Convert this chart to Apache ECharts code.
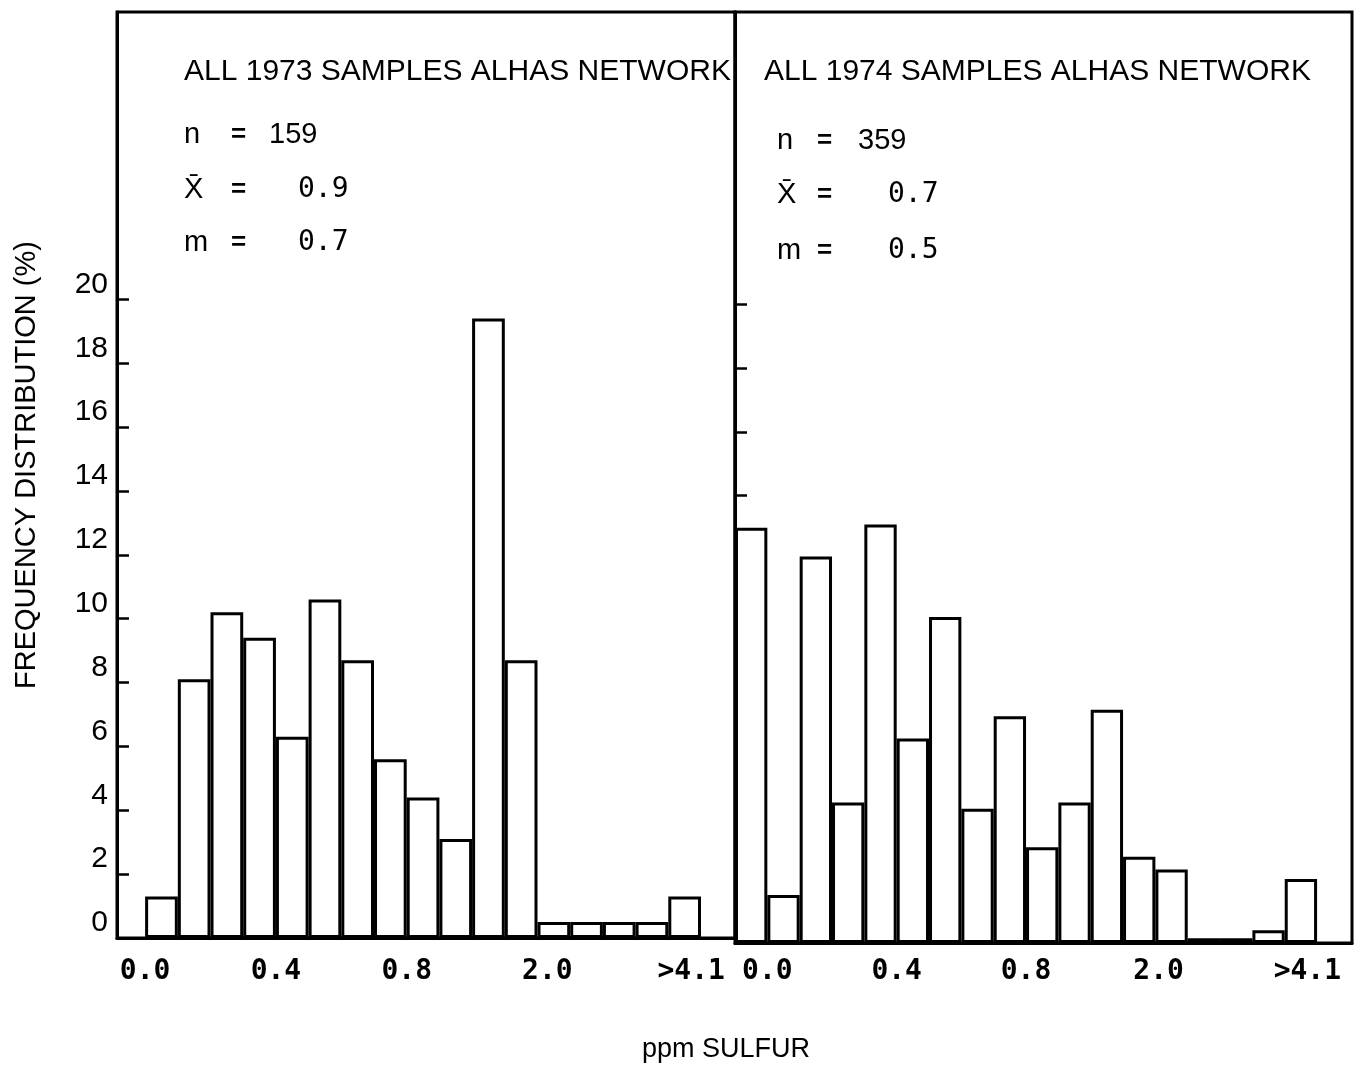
<!DOCTYPE html>
<html>
<head>
<meta charset="utf-8">
<script src="https://cdn.jsdelivr.net/npm/echarts@6/dist/echarts.min.js"></script>
<style>
  html, body { margin: 0; padding: 0; background: #fff; }
  #chart { width: 1355px; height: 1071px; }
</style>
</head>
<body>
<div id="chart"></div>
<script>
// Frequency distribution (%) of sulfur concentrations, one bar per bin
const freq1973 = [1.3, 8.1, 10.2, 9.4, 6.3, 10.6, 8.7, 5.6, 4.4, 3.1, 19.4, 8.7, 0.5, 0.5, 0.5, 0.5, 1.3];
const freq1974 = [13.0, 1.5, 12.1, 4.4, 13.1, 6.4, 10.2, 4.2, 7.1, 3.0, 4.4, 7.3, 2.7, 2.3, 0.15, 0.15, 0.4, 2.0];

// x tick labels (ppm) and the bin boundary each one sits on
const xTickText = ['0.0', '0.4', '0.8', '2.0', '>4.1'];
const xTickAt1973 = [0, 4, 8, 12.3, 16.7];
const xTickAt1974 = [1, 5, 9, 13.1, 17.7];

// y ticks (%)
const yTicks = [0, 2, 4, 6, 8, 10, 12, 14, 16, 18, 20];

const titles = ['ALL 1973 SAMPLES ALHAS NETWORK', 'ALL 1974 SAMPLES ALHAS NETWORK'];
const statNames = ['n', 'X\u0304', 'm'];
const stats1973 = ['159', '0.9', '0.7'];
const stats1974 = ['359', '0.7', '0.5'];

const SANS = '"Liberation Sans", Arial, sans-serif';
const MONO = '"DejaVu Sans Mono", monospace';
const INK = '#000';

function binData(values) {
  // each bar is centred inside its bin
  return values.map((v, i) => [i + 0.5, v]);
}

function tickFormatter(positions) {
  return function (v) {
    let best = 0;
    positions.forEach((p, i) => { if (Math.abs(p - v) < Math.abs(positions[best] - v)) best = i; });
    return xTickText[best];
  };
}

const frameLine = { show: true, onZero: false, lineStyle: { color: INK, width: 3 } };

function statTexts(names, values, x0, xEq, xVal, xNum, rows) {
  const out = [];
  names.forEach((name, i) => {
    const y = rows[i];
    out.push({ type: 'text', x: x0, y: y, style: { text: name, font: '29px ' + SANS, fill: INK, align: 'left', verticalAlign: 'middle' } });
    out.push({ type: 'text', x: xEq, y: y, style: { text: '=', font: 'bold 26px ' + SANS, fill: INK, align: 'left', verticalAlign: 'middle' } });
    const isCount = i === 0;
    out.push({ type: 'text', x: isCount ? xNum : xVal, y: y, style: { text: values[i], font: isCount ? ('29px ' + SANS) : ('28px ' + MONO), fill: INK, align: 'left', verticalAlign: 'middle' } });
  });
  return out;
}

const chart = echarts.init(document.getElementById('chart'), null, { renderer: 'canvas' });

chart.setOption({
  animation: false,
  backgroundColor: '#fff',
  grid: [
    { left: 117, top: 12, width: 618, height: 926, show: true, borderColor: INK, borderWidth: 3, backgroundColor: 'transparent' },
    { left: 735, top: 12, width: 617, height: 931, show: true, borderColor: INK, borderWidth: 3, backgroundColor: 'transparent' }
  ],
  xAxis: [
    {
      gridIndex: 0, type: 'value', min: -0.86, max: 18.04,
      axisLine: frameLine, axisTick: { show: false }, splitLine: { show: false },
      axisLabel: {
        customValues: xTickAt1973, formatter: tickFormatter(xTickAt1973),
        margin: 20, color: INK, fontFamily: MONO, fontSize: 28, fontWeight: 'bold', hideOverlap: false
      }
    },
    {
      gridIndex: 1, type: 'value', min: 0, max: 19.08,
      axisLine: frameLine, axisTick: { show: false }, splitLine: { show: false },
      axisLabel: {
        customValues: xTickAt1974, formatter: tickFormatter(xTickAt1974),
        margin: 15, color: INK, fontFamily: MONO, fontSize: 28, fontWeight: 'bold', hideOverlap: false
      }
    }
  ],
  yAxis: [
    {
      gridIndex: 0, type: 'value', min: 0, max: 29,
      axisLine: frameLine, splitLine: { show: false },
      axisTick: { customValues: yTicks, inside: true, length: 12, lineStyle: { color: INK, width: 2.5 } },
      axisLabel: { customValues: yTicks, verticalAlign: 'bottom', margin: 9, color: INK, fontFamily: SANS, fontSize: 30 },
      name: 'FREQUENCY DISTRIBUTION (%)', nameLocation: 'middle', nameRotate: 90, nameGap: 76,
      nameTextStyle: { color: INK, fontFamily: SANS, fontSize: 29, padding: [0, 0, 0, 20] }
    },
    {
      gridIndex: 1, type: 'value', min: 0, max: 29.14,
      axisLine: frameLine, splitLine: { show: false },
      axisTick: { customValues: yTicks, inside: true, length: 12, lineStyle: { color: INK, width: 2.5 } },
      axisLabel: { show: false }
    }
  ],
  series: [
    {
      type: 'bar', xAxisIndex: 0, yAxisIndex: 0, data: binData(freq1973), barWidth: '100%',
      itemStyle: { color: '#fff', borderColor: INK, borderWidth: 3 }, silent: true
    },
    {
      type: 'bar', xAxisIndex: 1, yAxisIndex: 1, data: binData(freq1974), barWidth: '100%',
      itemStyle: { color: '#fff', borderColor: INK, borderWidth: 3 }, silent: true
    }
  ],
  graphic: [
    { type: 'text', x: 184, y: 72, style: { text: titles[0], font: '30px ' + SANS, fill: INK, align: 'left', verticalAlign: 'middle' } },
    { type: 'text', x: 764, y: 72, style: { text: titles[1], font: '30px ' + SANS, fill: INK, align: 'left', verticalAlign: 'middle' } },
    ...statTexts(statNames, stats1973, 184, 231, 298, 269, [135, 190, 243]),
    ...statTexts(statNames, stats1974, 777, 817, 888, 858, [141, 195, 251]),
    { type: 'text', x: 726, y: 1050, style: { text: 'ppm SULFUR', font: '27px ' + SANS, fill: INK, align: 'center', verticalAlign: 'middle' } }
  ]
});
</script>
</body>
</html>
